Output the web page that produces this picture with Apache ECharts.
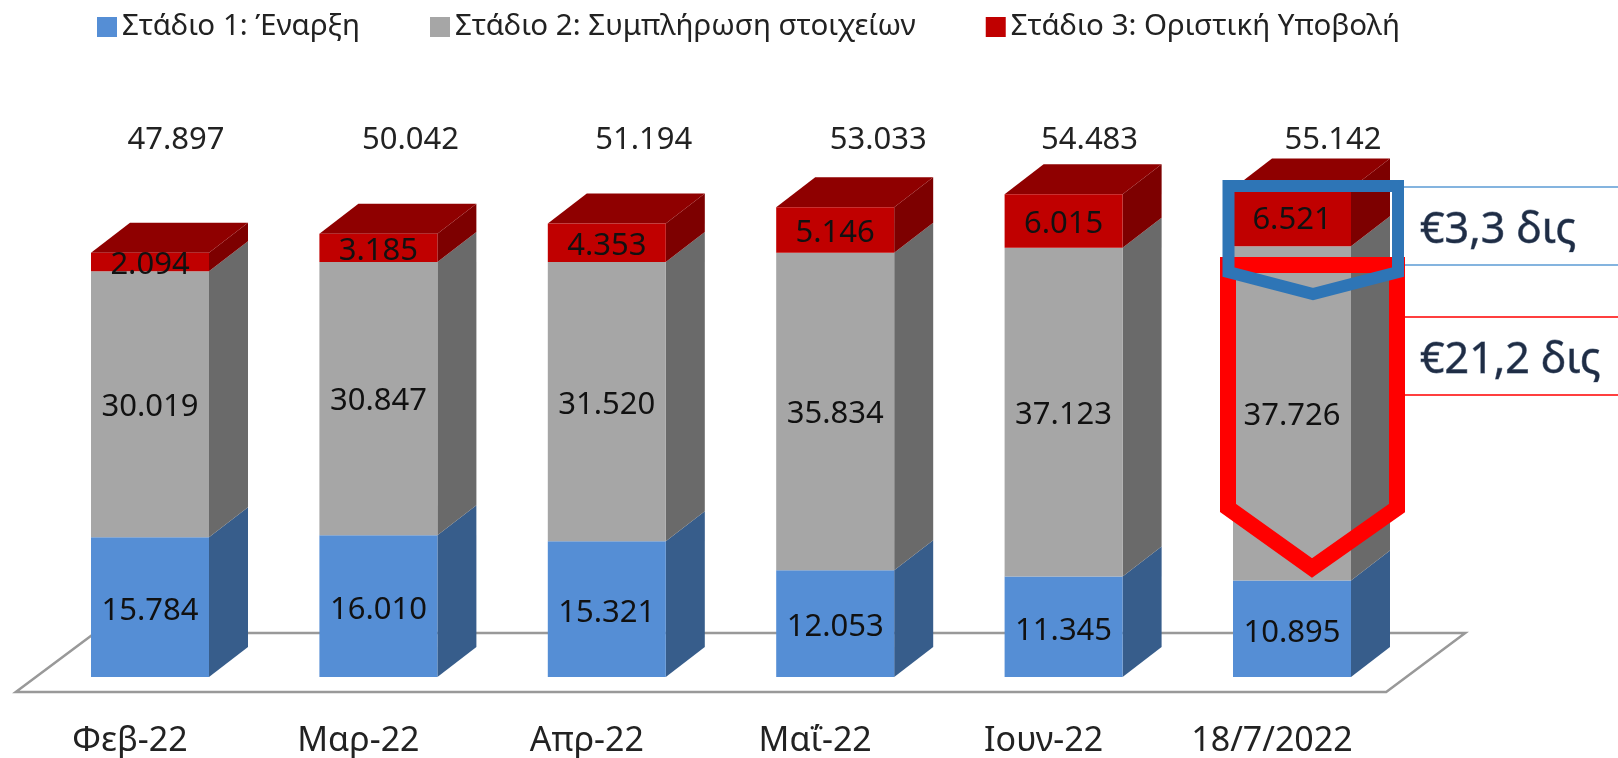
<!DOCTYPE html>
<html>
    <head>
        <meta charset="utf-8">
        <title>Στάδια</title>
        <style>
            html, body { margin: 0; padding: 0; background: #fff; }
            #chart1 { width: 1618px; height: 758px; }
        </style>
        <script src="https://cdn.jsdelivr.net/npm/echarts@6/dist/echarts.min.js"></script>
    </head>
    <body>
        <div id="chart1"></div>
        <script type="text/javascript">
            var months = ['Φεβ-22', 'Μαρ-22', 'Απρ-22', 'Μαΐ-22', 'Ιουν-22', '18/7/2022'];
            var stage1 = [15784, 16010, 15321, 12053, 11345, 10895];
            var stage2 = [30019, 30847, 31520, 35834, 37123, 37726];
            var stage3 = [2094, 3185, 4353, 5146, 6015, 6521];
            var totals = [47897, 50042, 51194, 53033, 54483, 55142];
            // totals sit a bit right of each bar, not evenly
            var totalShift = [26, 32, 37, 43, 26, 41];

            var names = ['Στάδιο 1: Έναρξη', 'Στάδιο 2: Συμπλήρωση στοιχείων', 'Στάδιο 3: Οριστική Υποβολή'];
            var front = ['#558ed5', '#a6a6a6', '#c00000'];
            var side = ['#375d8b', '#6a6a6a', '#7d0000'];
            var topColor = '#8f0000';

            var font = '"Noto Sans", sans-serif';
            var barW = 118, depthX = 39, depthY = 30;

            function fmt(v) {
                return String(v).replace(/\B(?=(\d{3})+$)/g, '.');
            }

            function barSeries(i, data, off) {
                return {
                    name: names[i],
                    type: 'bar',
                    stack: 'all',
                    barWidth: barW,
                    z: 3,
                    itemStyle: { color: front[i] },
                    label: {
                        show: true,
                        position: 'inside',
                        offset: [0, off],
                        color: '#111',
                        fontFamily: font,
                        fontSize: 31,
                        formatter: function (p) { return fmt(p.value); }
                    },
                    data: data
                };
            }

            // side and top faces, from the same stacked values
            function renderDepth(params, api) {
                var idx = api.value(0);
                var base = 0, kids = [];
                var x0 = api.coord([idx, 0])[0];
                var l = x0 - barW / 2, r = x0 + barW / 2;
                var yTop = 0;
                for (var k = 0; k < 3; k++) {
                    var y1 = api.coord([idx, base])[1];
                    base += api.value(k + 1);
                    var y2 = api.coord([idx, base])[1];
                    yTop = y2;
                    kids.push({
                        type: 'polygon',
                        shape: { points: [[r, y1], [r + depthX, y1 - depthY], [r + depthX, y2 - depthY], [r, y2]] },
                        style: { fill: side[k] }
                    });
                }
                kids.push({
                    type: 'polygon',
                    shape: { points: [[l, yTop], [l + depthX, yTop - depthY], [r + depthX, yTop - depthY], [r, yTop]] },
                    style: { fill: topColor }
                });
                kids.push({
                    type: 'text',
                    style: {
                        text: fmt(totals[idx]),
                        x: x0 + totalShift[idx],
                        y: 140,
                        align: 'center',
                        verticalAlign: 'middle',
                        fill: '#222',
                        font: '31px ' + font
                    }
                });
                return { type: 'group', children: kids };
            }

            // the floor under the bars
            function renderFloor(params, api) {
                var cs = params.coordSys;
                var y0 = api.coord([0, 0])[1];
                var a = cs.x - 20, b = cs.x + cs.width - 20;
                return {
                    type: 'polygon',
                    shape: { points: [[a, y0 + 15], [a + 79, y0 - 44], [b + 79, y0 - 44], [b, y0 + 15]] },
                    style: { fill: '#fff', stroke: '#999', lineWidth: 2.5 }
                };
            }

            var depthData = months.map(function (m, i) {
                return [i, stage1[i], stage2[i], stage3[i]];
            });

            var myChart = echarts.init(document.getElementById('chart1'));
            myChart.setOption({
                animation: false,
                backgroundColor: '#fff',
                legend: {
                    data: names,
                    left: 92,
                    top: 7,
                    icon: 'rect',
                    itemWidth: 20,
                    itemHeight: 20,
                    itemGap: 70,
                    textStyle: { fontFamily: font, fontSize: 29.5, color: '#222' }
                },
                grid: { left: 35.8, top: 145.5, width: 1370.4, height: 531.5, outerBoundsMode: 'none' },
                xAxis: {
                    type: 'category',
                    data: months,
                    axisLine: { show: false },
                    axisTick: { show: false },
                    axisLabel: {
                        margin: 47,
                        padding: [0, 40, 0, 0],
                        color: '#222',
                        fontFamily: font,
                        fontSize: 34
                    }
                },
                yAxis: { type: 'value', min: 0, max: 60000, show: false },
                series: [
                    { type: 'custom', silent: true, z: 1, renderItem: renderFloor, data: [[0]] },
                    { type: 'custom', silent: true, z: 2, renderItem: renderDepth, encode: { x: 0 }, data: depthData },
                    barSeries(0, stage1, 4),
                    barSeries(1, stage2, 3),
                    barSeries(2, stage3, 3)
                ],
                graphic: [
                    { type: 'polyline', z: 10, shape: { points: [[1402, 187], [1618, 187]] }, style: { stroke: '#5b9bd5', lineWidth: 1.5 } },
                    { type: 'polyline', z: 10, shape: { points: [[1402, 265], [1618, 265]] }, style: { stroke: '#5b9bd5', lineWidth: 1.5 } },
                    { type: 'polyline', z: 10, shape: { points: [[1618, 317], [1403, 317], [1403, 395], [1618, 395]] }, style: { stroke: '#ff0000', lineWidth: 1.5 } },
                    {
                        type: 'polygon', z: 11,
                        shape: { points: [[1228, 265], [1397, 265], [1397, 508], [1312, 568], [1228, 508]] },
                        style: { fill: 'none', stroke: '#ff0000', lineWidth: 16, lineJoin: 'miter' }
                    },
                    {
                        type: 'polygon', z: 12,
                        shape: { points: [[1228.5, 186], [1398, 186], [1398, 272], [1313, 294], [1228.5, 272]] },
                        style: { fill: 'none', stroke: '#2e75b6', lineWidth: 12, lineJoin: 'miter' }
                    },
                    { type: 'text', z: 13, style: { text: '€3,3 δις', x: 1420, y: 231, verticalAlign: 'middle', fill: '#1f2d45', stroke: '#7f8ea3', lineWidth: 0.8, font: '43px ' + font } },
                    { type: 'text', z: 13, style: { text: '€21,2 δις', x: 1420, y: 361, verticalAlign: 'middle', fill: '#1f2d45', stroke: '#7f8ea3', lineWidth: 0.8, font: '43px ' + font } }
                ]
            });
        </script>
    </body>
</html>
